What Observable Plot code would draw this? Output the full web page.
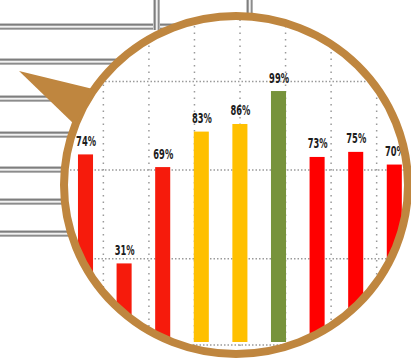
<!DOCTYPE html>
<html>
<head>
<meta charset="utf-8">
<script src="https://cdn.jsdelivr.net/npm/d3@7"></script>
<script src="https://cdn.jsdelivr.net/npm/@observablehq/plot@0.6"></script>
<style>
  html, body { margin: 0; padding: 0; background: #fff; }
  #chart svg { display: block; }
</style>
</head>
<body>
<div id="chart"></div>
<script>
// ---- data ----
const categories = ["1", "2", "3", "4", "5", "6", "7", "8", "9"];
const values = [74, 31, 69, 83, 86, 99, 73, 75, 70];
const barColors = ["#f61b0c", "#f61b0c", "#f61b0c", "#ffc000", "#ffc000", "#77933c", "#ff0000", "#ff0000", "#ff0000"];
// magnified grid (in bar-index units and percent)
const gridX = [0.45, 1.63, 2.81, 3.99, 5.17, 6.35, 7.53];
const gridY = [-1, 33, 68, 103];

const data = categories.map((c, i) => ({ c, i, value: values[i], color: barColors[i] }));
const half = 0.195;

const chart = Plot.plot({
  width: 411,
  height: 361,
  x: { domain: [0, 8], range: [85.5, 394.3], axis: null },
  y: { domain: [0, 100], range: [342, 88.5], axis: null },
  color: { type: "identity" },
  style: { background: "transparent" },
  marks: [
    Plot.ruleY(gridY, { stroke: "#9a9a9a", strokeWidth: 1.5, strokeDasharray: "1.5,2" }),
    Plot.ruleX(gridX, { stroke: "#9a9a9a", strokeWidth: 1.5, strokeDasharray: "1.5,5" }),
    Plot.rectY(data, { x1: d => d.i - half, x2: d => d.i + half, y: "value", fill: "color" }),
    Plot.text(data, {
      x: "i", y: "value", text: d => d.value + "%",
      dy: -9, lineAnchor: "bottom",
      fontSize: 14, fontWeight: "bold", fill: "#1c1c1c",
      fontFamily: "'Liberation Sans Narrow', 'DejaVu Sans Condensed', 'Arial Narrow', sans-serif",
      className: "lbl"
    })
  ]
});

document.getElementById("chart").appendChild(chart);

// condense labels horizontally (magnified look)
d3.select(chart).selectAll(".lbl text").each(function () {
  const bb = this.getBBox();
  const c = bb.x + bb.width / 2;
  const t = this.getAttribute("transform") || "";
  this.setAttribute("transform", `${t} translate(${c},0) scale(0.66,1) translate(${-c},0)`);
});

// ---- decoration: table behind the magnifier, lens, ring and pointer ----
const svg = d3.select(chart);
const node = svg.node();
const markGroups = Array.from(node.childNodes).filter(n => n.tagName && n.tagName.toLowerCase() === "g");
const firstG = markGroups[0];

const ringColor = "#bf863f";
const cx = 236, cy = 185, rx = 172, ry = 169, ringW = 8;

const bg = d3.select(node.insertBefore(document.createElementNS("http://www.w3.org/2000/svg", "g"), firstG));
bg.append("rect").attr("width", 411).attr("height", 361).attr("fill", "#fff");
const bandYs = [23, 58, 95, 131, 166, 198, 230];
function hband(y) {
  bg.append("rect").attr("x", 0).attr("y", y).attr("width", 250).attr("height", 7).attr("fill", "#c4c4c4");
  bg.append("rect").attr("x", 0).attr("y", y + 1).attr("width", 250).attr("height", 1.5).attr("fill", "#7e7e7e");
  bg.append("rect").attr("x", 0).attr("y", y + 3).attr("width", 250).attr("height", 1.3).attr("fill", "#f2f2f2");
  bg.append("rect").attr("x", 0).attr("y", y + 5).attr("width", 250).attr("height", 1.3).attr("fill", "#8c8c8c");
}
bandYs.forEach(hband);
[[153, 30], [246, 26]].forEach(([x, h]) => {
  bg.append("rect").attr("x", x).attr("y", 0).attr("width", 7).attr("height", h).attr("fill", "#c4c4c4");
  bg.append("rect").attr("x", x + 1).attr("y", 0).attr("width", 1.5).attr("height", h).attr("fill", "#7e7e7e");
  bg.append("rect").attr("x", x + 3).attr("y", 0).attr("width", 1.3).attr("height", h).attr("fill", "#f2f2f2");
  bg.append("rect").attr("x", x + 5).attr("y", 0).attr("width", 1.3).attr("height", h).attr("fill", "#8c8c8c");
});
bg.append("ellipse").attr("cx", cx).attr("cy", cy).attr("rx", rx).attr("ry", ry).attr("fill", "#fff");

const defs = bg.append("defs");
defs.append("clipPath").attr("id", "lens")
  .append("ellipse").attr("cx", cx).attr("cy", cy).attr("rx", rx - 1).attr("ry", ry - 1);

const lens = svg.append("g").attr("clip-path", "url(#lens)");
markGroups.forEach(g => lens.node().appendChild(g));

svg.append("ellipse").attr("cx", cx).attr("cy", cy).attr("rx", rx).attr("ry", ry)
  .attr("fill", "none").attr("stroke", ringColor).attr("stroke-width", ringW);
svg.append("path").attr("d", "M19,71 L93,89 L75,125 Z").attr("fill", ringColor);
</script>
</body>
</html>
